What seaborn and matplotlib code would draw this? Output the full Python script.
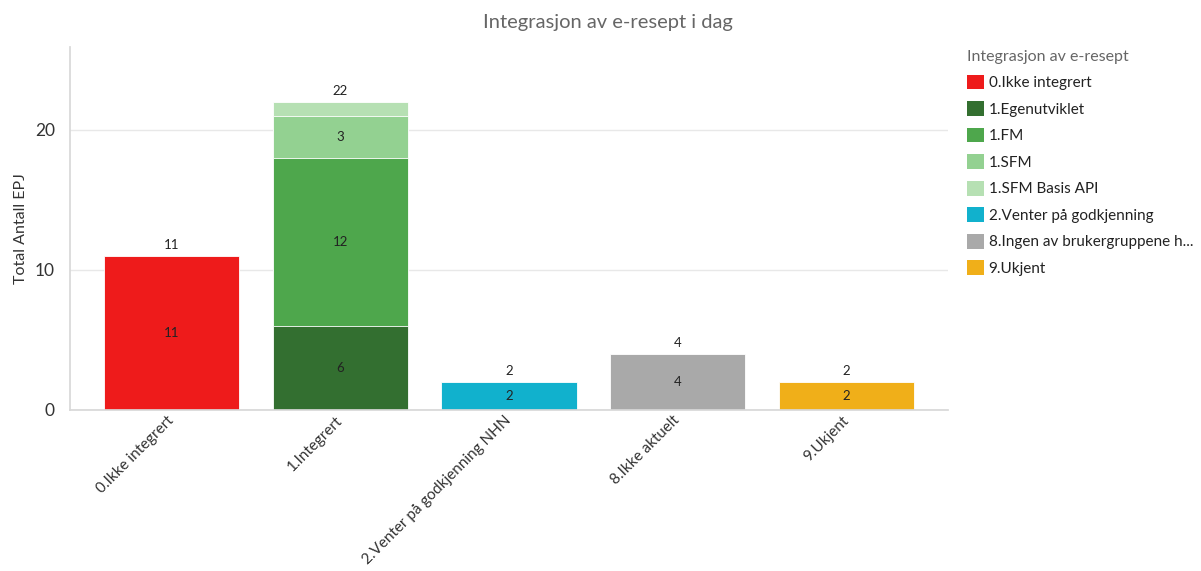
import matplotlib
matplotlib.use("Agg")
import matplotlib.pyplot as plt
import matplotlib.patches as mpatches
import seaborn as sns
import pandas as pd

# Categories on the x axis
categories = ["0.Ikke integrert", "1.Integrert", "2.Venter på godkjenning NHN",
              "8.Ikke aktuelt", "9.Ukjent"]

# Stack segments: (category, subgroup, value)
seg_category = ["0.Ikke integrert", "1.Integrert", "1.Integrert", "1.Integrert",
                "1.Integrert", "2.Venter på godkjenning NHN", "8.Ikke aktuelt", "9.Ukjent"]
seg_group = ["0.Ikke integrert", "1.Egenutviklet", "1.FM", "1.SFM", "1.SFM Basis API",
             "2.Venter på godkjenning", "8.Ingen av brukergruppene h...", "9.Ukjent"]
seg_value = [11, 6, 12, 3, 1, 2, 4, 2]

group_colors = ["#EE1B1B", "#336F30", "#4EA74C", "#93D191", "#B6E0B3",
                "#11B1CD", "#A9A9A9", "#F0AF19"]

sns.set_theme(style="white")
plt.rcParams["font.family"] = ["Lato", "DejaVu Sans"]

df = pd.DataFrame({"category": seg_category, "group": seg_group, "value": seg_value})
df["top"] = df.groupby("category")["value"].cumsum()
df["bottom"] = df["top"] - df["value"]
df["level"] = df.groupby("category").cumcount()

fig = plt.figure(figsize=(12.01, 5.71), dpi=100)
ax = fig.add_axes([0.0583, 0.282, 0.7310, 0.636])

# Draw stacks from the top layer down so lower segments cover the upper ones
for lvl in range(df["level"].max(), -1, -1):
    sub = df[df["level"] == lvl]
    sns.barplot(data=sub, x="category", y="top", hue="group",
                order=categories, hue_order=seg_group,
                palette=dict(zip(seg_group, group_colors)),
                dodge=False, width=0.8, edgecolor="white", linewidth=0.6,
                legend=False, ax=ax, errorbar=None, saturation=1)

# Segment labels (values of at least 2)
cat_index = {c: i for i, c in enumerate(categories)}
for _, row in df.iterrows():
    if row["value"] >= 2:
        ax.text(cat_index[row["category"]], row["bottom"] + row["value"] / 2,
                f"{row['value']}", ha="center", va="center", fontsize=9.5,
                color="#222222")

# Totals above each bar
totals = df.groupby("category")["value"].sum()
for c in categories:
    ax.text(cat_index[c], totals[c] + 0.35, f"{totals[c]}", ha="center",
            va="bottom", fontsize=9.5, color="#222222")

ax.set_xlim(-0.6, 4.6)
ax.set_ylim(0, 25.9)
ax.set_yticks([0, 10, 20])
ax.yaxis.grid(True, color="#E8E8E8", linewidth=1)
ax.set_axisbelow(True)
ax.tick_params(axis="y", labelsize=12.5, colors="#333333", length=0, pad=11)
ax.tick_params(axis="x", labelsize=11, colors="#333333", length=0, pad=6)
plt.setp(ax.get_xticklabels(), rotation=45, ha="right", va="center",
         rotation_mode="anchor")
ax.set_xlabel("")
ax.set_ylabel("Total Antall EPJ", fontsize=11.5, color="#333333", labelpad=5)
for side in ["top", "right"]:
    ax.spines[side].set_visible(False)
ax.spines["left"].set_color("#D8D8D8")
ax.spines["bottom"].set_color("#D8D8D8")

fig.suptitle("Integrasjon av e-resept i dag", fontsize=14.5, color="#666666",
             x=0.506, y=0.975, va="top")

handles = [mpatches.Patch(facecolor=col, edgecolor="none") for col in group_colors]
leg = fig.legend(handles, seg_group, title="Integrasjon av e-resept",
                 loc="upper left", bbox_to_anchor=(0.794, 0.937), frameon=False,
                 fontsize=11, title_fontsize=11.5, handlelength=1.1, handleheight=1.1,
                 handletextpad=0.3, labelspacing=0.72, alignment="left")
leg.get_title().set_color("#666666")
for t in leg.get_texts():
    t.set_color("#222222")

fig.savefig("out.png", dpi=100)
